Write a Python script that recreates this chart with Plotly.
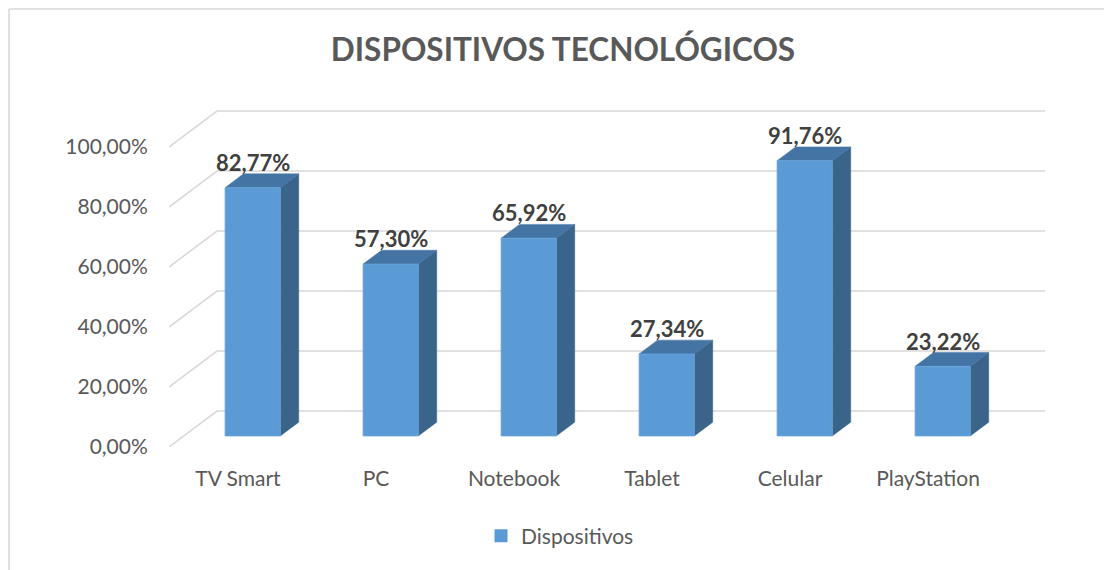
import plotly.graph_objects as go

categories = ["TV Smart", "PC", "Notebook", "Tablet", "Celular", "PlayStation"]
values = [82.77, 57.30, 65.92, 27.34, 91.76, 23.22]
value_labels = ["82,77%", "57,30%", "65,92%", "27,34%", "91,76%", "23,22%"]
tick_vals = [0, 20, 40, 60, 80, 100]
tick_text = ["0,00%", "20,00%", "40,00%", "60,00%", "80,00%", "100,00%"]
series_name = "Dispositivos"

# layout geometry (pixels, page has an 8px body offset)
OFF = 8
W, H = 1112 - OFF, 570 - OFF
ML, MR, MT, MB = 169 - OFF, 67, 100 - OFF, 123
cat_px = 138.0
px_per_unit_y = 3.0
plot_w = W - ML - MR
plot_h = H - MT - MB
x_range = [-0.5, -0.5 + plot_w / cat_px]
y_range = [0, plot_h / px_per_unit_y]

# oblique depth offsets (data units) for the full floor depth
DX = 48 / cat_px
DY = 36 / px_per_unit_y
d_front, d_back = 0.306, 0.69
half_w = 0.2

FRONT = "#5b9bd5"
TOP = "#4474a4"
SIDE = "#3a6489"
GRID = "#d9d9d9"
FONT = "Lato"

fig = go.Figure()

# gridlines: side wall diagonal + back wall horizontal
for v in tick_vals:
    fig.add_trace(go.Scatter(
        x=[x_range[0], x_range[0] + DX, len(categories) - 0.5 + DX],
        y=[v, v + DY, v + DY],
        mode="lines", line=dict(color=GRID, width=1.6),
        hoverinfo="skip", showlegend=False))

for i, v in enumerate(values):
    fx0 = i - half_w + d_front * DX
    fx1 = i + half_w + d_front * DX
    bx0 = i - half_w + d_back * DX
    bx1 = i + half_w + d_back * DX
    fy0 = d_front * DY
    by0 = d_back * DY
    fy1 = v + d_front * DY
    by1 = v + d_back * DY
    # side face
    fig.add_trace(go.Scatter(
        x=[fx1, bx1, bx1, fx1, fx1], y=[fy0, by0, by1, fy1, fy0],
        fill="toself", fillcolor=SIDE, mode="lines",
        line=dict(color=SIDE, width=0.5), hoverinfo="skip", showlegend=False))
    # top face
    fig.add_trace(go.Scatter(
        x=[fx0, fx1, bx1, bx0, fx0], y=[fy1, fy1, by1, by1, fy1],
        fill="toself", fillcolor=TOP, mode="lines",
        line=dict(color=TOP, width=0.5), hoverinfo="skip", showlegend=False))
    # front face
    fig.add_trace(go.Scatter(
        x=[fx0, fx1, fx1, fx0, fx0], y=[fy0, fy0, fy1, fy1, fy0],
        fill="toself", fillcolor=FRONT, mode="lines",
        line=dict(color="#6aa6dc", width=0.8), hoverinfo="skip", showlegend=False))
    fig.add_annotation(
        x=i + d_front * DX, y=by1, text="<b>%s</b>" % value_labels[i],
        showarrow=False, yanchor="bottom", xanchor="center", yshift=-4,
        font=dict(family=FONT, size=22, color="#404040"))

# legend entry
fig.add_trace(go.Scatter(
    x=[None], y=[None], mode="markers", name=series_name,
    marker=dict(symbol="square", size=13, color=FRONT)))

# outer frame (left and top edges visible)
fx = (1.0 - ML) / plot_w
fy = (H - MB - 1.0) / plot_h
fig.add_shape(type="line", xref="paper", yref="paper", x0=fx, x1=fx, y0=fy, y1=-0.5,
              line=dict(color=GRID, width=1.6))
fig.add_shape(type="line", xref="paper", yref="paper", x0=fx, x1=1.2, y0=fy, y1=fy,
              line=dict(color=GRID, width=1.6))

fig.update_layout(
    width=W, height=H,
    margin=dict(l=ML, r=MR, t=MT, b=MB),
    paper_bgcolor="white", plot_bgcolor="white",
    title=dict(text="<b>DISPOSITIVOS TECNOLÓGICOS</b>", x=(563 - OFF) / W, xanchor="center",
               y=1 - (50 - OFF) / H, yanchor="middle",
               font=dict(family=FONT, size=31.5, color="#595959")),
    xaxis=dict(range=x_range, tickvals=list(range(len(categories))), ticktext=categories,
               showgrid=False, zeroline=False, showline=False,
               ticks="outside", ticklen=13, tickcolor="rgba(0,0,0,0)",
               tickfont=dict(family=FONT, size=21, color="#595959"), fixedrange=True),
    yaxis=dict(range=y_range, tickvals=tick_vals, ticktext=tick_text,
               showgrid=False, zeroline=False, showline=False,
               ticks="outside", ticklen=16, tickcolor="rgba(0,0,0,0)",
               tickfont=dict(family=FONT, size=21, color="#595959"), fixedrange=True),
    showlegend=True,
    legend=dict(orientation="h", x=(560 - OFF - ML) / plot_w, xanchor="center",
                y=-89 / plot_h, yanchor="middle",
                font=dict(family=FONT, size=21, color="#595959"),
                bgcolor="rgba(0,0,0,0)"),
)

fig.write_html("out.html")
